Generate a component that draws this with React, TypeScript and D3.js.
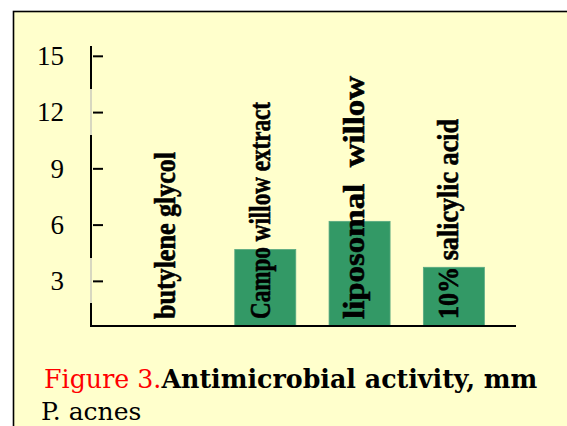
import React from 'react'
import * as d3 from 'd3'

const width = 567
const height = 426

// chart values
const categories = ['butylene glycol', 'Campo willow extract', 'liposomal  willow', '10% salicylic acid']
const values = [0, 4.7, 6.2, 3.75]
const yTicks = [3, 6, 9, 12, 15]

// drawn length of each rotated label (the source squeezes them unevenly)
const labelLengths = [167, 217, 243, 200]

const timesFont = 'Liberation Serif, Times New Roman, Times, serif'
const captionFont = 'DejaVu Serif, serif'

const App = () => {
  const x = d3.scaleBand<string>()
    .domain(categories)
    .range([91, 516])
    .paddingInner(0.353)
    .paddingOuter(0.43)
    .align(0.61)

  const y = d3.scaleLinear()
    .domain([0.62, 15.55])
    .range([326, 46])

  const base = y(y.domain()[0])
  const top = y(y.domain()[1])

  return (
    <svg width={width} height={height} style={{ position: 'absolute', left: 0, top: 0, background: '#fff' }}>
      <rect x={13.5} y={11.5} width={620} height={500} fill="#FFFFCC" stroke="#000" strokeWidth={1.6} />

      {/* bars */}
      {categories.map((c, i) => {
        const h = Math.max(0, base - y(values[i]))
        return (
          <rect key={c} x={x(c)} y={base - h} width={x.bandwidth()} height={h}
            fill="#339966" stroke="#5aa982" strokeWidth={0.8} />
        )
      })}

      {/* y axis: the line fades in two places in the source */}
      <line x1={91} x2={91} y1={top} y2={base + 1} stroke="#d8d8c0" strokeWidth={2} />
      <line x1={91} x2={91} y1={top} y2={base + 1} stroke="#000" strokeWidth={2}
        strokeDasharray="43 46 123 45 30 0" />
      {yTicks.map(t => (
        <g key={t}>
          <line x1={93} x2={103} y1={y(t)} y2={y(t)} stroke="#000" strokeWidth={2} />
          <text x={64} y={y(t)} dy="0.33em" textAnchor="end"
            style={{ fontFamily: timesFont, fontSize: 27 }} fill="#000">{t}</text>
        </g>
      ))}

      {/* x axis */}
      <line x1={90} x2={516} y1={base} y2={base} stroke="#000" strokeWidth={2} />

      {/* category labels */}
      {categories.map((c, i) => {
        const cx = (x(c) ?? 0) + x.bandwidth() / 2
        return (
          <text key={c} transform={`translate(${cx},319) rotate(-90)`} dy="0.15em"
            fill="#000" stroke="#000" strokeWidth={0.6}
            textLength={labelLengths[i]} lengthAdjust="spacingAndGlyphs"
            style={{ whiteSpace: 'pre', fontFamily: timesFont, fontWeight: 'bold', fontSize: 29 }}>{c}</text>
        )
      })}

      {/* caption */}
      <text x={44} y={388} style={{ fontFamily: captionFont, fontSize: 25.3 }}>
        <tspan fill="#FF0000">Figure 3.</tspan>
        <tspan fill="#000" fontWeight="bold">Antimicrobial activity, mm</tspan>
      </text>
      <text x={41} y={420} style={{ fontFamily: captionFont, fontSize: 25 }} fill="#000">P. acnes</text>
    </svg>
  )
}

export default App
